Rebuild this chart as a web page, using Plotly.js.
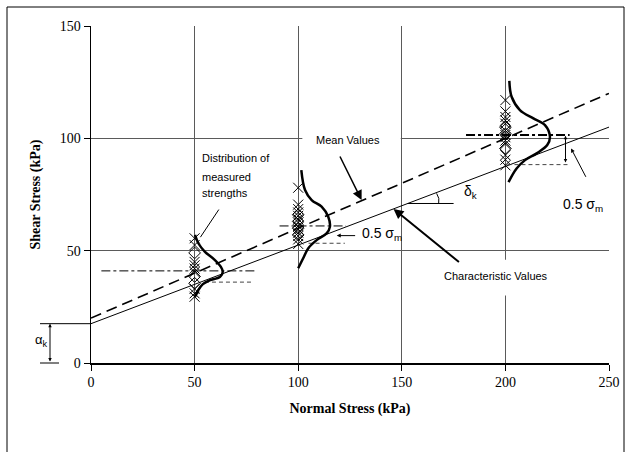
<!DOCTYPE html>
<html><head><meta charset="utf-8">
<script src="https://cdn.plot.ly/plotly-3.0.1.min.js"></script>
<style>html,body{margin:0;padding:0;background:#fff}</style>
</head><body><div id="chart" style="width:630px;height:452px"></div>
<script>
// ---- data ----
const lineX = [0, 250];
const meanY = [20, 120];          // mean-values envelope
const charY = [17.5, 105];        // characteristic-values envelope

// measured strengths at each normal stress
const cross50 = [55.5, 52.5, 45, 43.5, 42, 40.5, 33, 31, 29.5];
const diam50  = [49, 38.5, 35.5];
const cross100 = [78, 70.5, 68.5, 67, 65.5, 64, 62.5, 61, 59.5, 58, 56.5, 55, 53];
const diam100  = [66, 63, 60, 57];
const cross200 = [117, 112, 109.5, 108, 106.5, 103.5, 101.5, 100.5, 99, 97.5, 92.5, 90.5, 88];
const diam200  = [105, 102, 95.5];

// distribution curves (x,y)
const bell50X  = [50.2, 51.8, 55.0, 59.8, 62.6, 63.6, 62.3, 56.7, 54.0, 51.8, 50.2];
const bell50Y  = [57.0, 53.3, 49.5, 45.8, 42.9, 40.6, 38.4, 36.6, 35.1, 32.5, 29.5];
const bell100X = [101.5, 103.3, 106.5, 111.3, 114.5, 115.3, 113.7, 108.9, 104.8, 102.4, 100.0];
const bell100Y = [85.9, 77.0, 72.5, 69.6, 65.1, 60.6, 57.7, 54.7, 51.0, 46.6, 42.2];
const bell200X = [201.9, 203.0, 207.0, 213.5, 219.1, 221.5, 220.2, 215.1, 209.5, 205.4, 201.5];
const bell200Y = [125.6, 118.5, 112.6, 108.9, 105.9, 100.7, 97.0, 93.3, 90.3, 86.6, 80.5];

// group mean / characteristic levels and their short marker lines
const groupMean = [41, 61, 101.5];
const meanFrom  = [5, 91, 181];
const meanTo    = [80, 123, 231];
const groupChar = [36, 53.3, 88.3];
const charFrom  = [55, 105, 201];
const charTo    = [78, 122.5, 230];

// ---- traces ----
const traces = [];
traces.push({x: lineX, y: meanY, mode: 'lines', line: {color: '#000', width: 1.6, dash: '11px,6px'}});
traces.push({x: lineX, y: charY, mode: 'lines', line: {color: '#000', width: 1}});

for (let i = 0; i < 3; i++) {
  traces.push({x: [meanFrom[i], meanTo[i]], y: [groupMean[i], groupMean[i]], mode: 'lines',
    line: {color: '#000', width: i === 2 ? 2 : 1, dash: 'dashdot'}});
  traces.push({x: [charFrom[i], charTo[i]], y: [groupChar[i], groupChar[i]], mode: 'lines',
    line: {color: '#444', width: 1, dash: '4px,3px'}});
}

const groups = [[50, cross50, diam50], [100, cross100, diam100], [200, cross200, diam200]];
groups.forEach(([gx, cr, di]) => {
  traces.push({x: cr.map(() => gx), y: cr, mode: 'markers',
    marker: {symbol: 'x-thin-open', size: 10, color: '#000', line: {color: '#000', width: 1}}});
  traces.push({x: di.map(() => gx), y: di, mode: 'markers',
    marker: {symbol: 'diamond-open', size: 9, color: '#000', line: {color: '#000', width: 1}}});
});

[[bell50X, bell50Y], [bell100X, bell100Y], [bell200X, bell200Y]].forEach(([bx, by]) => {
  traces.push({x: bx, y: by, mode: 'lines', line: {color: '#000', width: 2.5, shape: 'spline', smoothing: 1}});
});

// ---- layout ----
const serif = 'Liberation Serif, Times New Roman, serif';
const sans = 'Liberation Sans, Arial, sans-serif';
const pxX = p => (p - 91) / 518;   // helper for paper coords left of axis
const ann = [];
const txt = (x, y, text, opts) => Object.assign({x, y, text, showarrow: false,
  font: {family: sans, size: 11, color: '#000'}}, opts || {});
const arr = (x, y, ax, ay, opts) => Object.assign({x, y, ax, ay, axref: 'x', ayref: 'y', text: '',
  showarrow: true, arrowhead: 2, arrowsize: 1, arrowwidth: 1, arrowcolor: '#000'}, opts || {});

ann.push(txt(123.8, 99.2, 'Mean Values'));
ann.push(arr(130.6, 72.5, 119.8, 92.6, {arrowwidth: 1.5, arrowsize: 1.3}));
ann.push(txt(52.6, 91.2, 'Distribution of', {xanchor: 'left'}));
ann.push(txt(52.6, 82.8, 'measured', {xanchor: 'left'}));
ann.push(txt(52.6, 75.7, 'strengths', {xanchor: 'left'}));
ann.push(txt(129.8, 57.4, '0.5 σ<sub>m</sub>', {xanchor: 'left', font: {family: sans, size: 14, color: '#000'}}));
ann.push(arr(118.6, 56.7, 128.2, 56.7, {arrowsize: 0.8}));
ann.push(txt(195.5, 38.7, 'Characteristic Values'));
ann.push(arr(146, 68.6, 178.3, 44.4, {arrowwidth: 2, arrowsize: 1}));
ann.push(txt(183, 76.2, 'δ<sub>k</sub>', {font: {family: sans, size: 14, color: '#000'}}));
ann.push(txt(237.5, 70.3, '0.5 σ<sub>m</sub>', {font: {family: sans, size: 14, color: '#000'}}));
ann.push(arr(231.7, 95.5, 239.2, 82.2, {arrowsize: 0.8}));
ann.push(arr(229, 101.2, 229, 88.6, {arrowside: 'end+start', arrowsize: 0.7}));
// alpha_k marker left of axis
ann.push({xref: 'paper', yref: 'y', x: pxX(33), y: 10.2, text: 'α<sub>k</sub>', showarrow: false,
  font: {family: sans, size: 13, color: '#000'}});
ann.push({xref: 'paper', yref: 'y', x: pxX(50), y: 17.5, ax: 0, ay: 0, axref: 'pixel', ayref: 'y', text: '',
  showarrow: true, arrowhead: 2, arrowsize: 0.7, arrowwidth: 1, arrowside: 'end+start', arrowcolor: '#000'});

const shapes = [
  // white backing of the text boxes (hide gridlines)
  {type: 'rect', layer: 'between', xref: 'x', yref: 'y', x0: 102, x1: 149.5, y0: 96, y1: 104, fillcolor: '#fff', line: {width: 0}},
  {type: 'rect', layer: 'between', xref: 'x', yref: 'y', x0: 176, x1: 218, y0: 30, y1: 46, fillcolor: '#fff', line: {width: 0}},
  // leader line from the "Distribution" label
  {type: 'line', xref: 'x', yref: 'y', x0: 61.7, y0: 68.3, x1: 52.8, y1: 56, line: {color: '#000', width: 1}},
  // angle marker
  {type: 'line', xref: 'x', yref: 'y', x0: 152.9, x1: 175, y0: 71, y1: 71, line: {color: '#000', width: 1}},
  {type: 'path', xref: 'x', yref: 'y', path: 'M 167.8,71 Q 168.4,73.3 166.8,75.5', line: {color: '#000', width: 1}},
  // alpha_k lines
  {type: 'line', xref: 'paper', yref: 'paper', x0: pxX(40), x1: 0, y0: 17.5 / 150, y1: 17.5 / 150, line: {color: '#000', width: 1}},
  {type: 'line', xref: 'paper', yref: 'paper', x0: pxX(40), x1: pxX(59), y0: 0, y1: 0, line: {color: '#000', width: 1}},
  // outer frame
  {type: 'rect', xref: 'paper', yref: 'paper', x0: pxX(7), x1: pxX(624), y0: -0.35, y1: (363 - 7) / 337,
   line: {color: '#000', width: 1}, fillcolor: 'rgba(0,0,0,0)'}
];

const axisCommon = {
  showgrid: true, gridcolor: '#5a5a5a', gridwidth: 1, zeroline: false,
  showline: true, linecolor: '#000', linewidth: 1.5,
  ticks: 'outside', ticklen: 6, tickcolor: '#000', tickwidth: 1,
  tickfont: {family: serif, size: 14, color: '#000'}
};

const layout = {
  width: 630, height: 452,
  margin: {l: 91, r: 21, t: 26, b: 89},
  paper_bgcolor: '#fff', plot_bgcolor: '#fff',
  showlegend: false,
  xaxis: Object.assign({}, axisCommon, {range: [0, 250], dtick: 50, tick0: 0,
    title: {text: '<b>Normal Stress (kPa)</b>', font: {family: serif, size: 14, color: '#000'}, standoff: 14}}),
  yaxis: Object.assign({}, axisCommon, {range: [0, 150], dtick: 50, tick0: 0,
    title: {text: '<b>Shear Stress (kPa)</b>', font: {family: serif, size: 14, color: '#000'}, standoff: 16}}),
  annotations: ann,
  shapes: shapes
};

Plotly.newPlot('chart', traces, layout, {displayModeBar: false, staticPlot: true});
</script></body></html>
